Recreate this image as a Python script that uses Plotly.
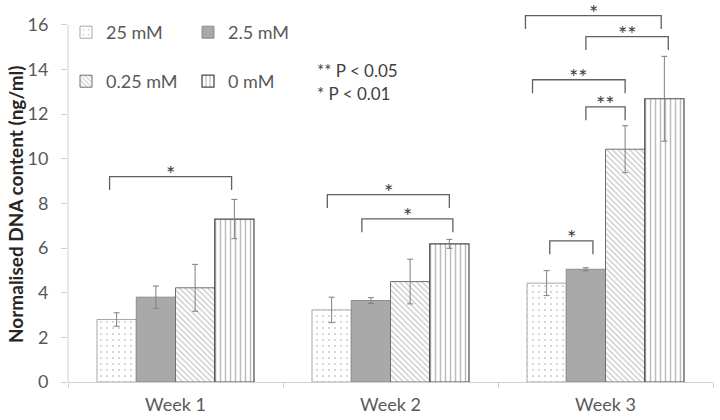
import plotly.graph_objects as go

weeks = ["Week 1", "Week 2", "Week 3"]
series = ["25 mM", "2.5 mM", "0.25 mM", "0 mM"]
values = {
    "25 mM":   [2.80, 3.23, 4.43],
    "2.5 mM":  [3.80, 3.65, 5.05],
    "0.25 mM": [4.22, 4.50, 10.43],
    "0 mM":    [7.30, 6.19, 12.69],
}
errors = {
    "25 mM":   [0.30, 0.57, 0.56],
    "2.5 mM":  [0.50, 0.13, 0.07],
    "0.25 mM": [1.05, 1.00, 1.05],
    "0 mM":    [0.88, 0.20, 1.90],
}
y_ticks = [0, 2, 4, 6, 8, 10, 12, 14, 16]

# significance brackets: (week index, from bar, to bar, bracket height, label)
brackets = [
    (0, -0.18, 2.93, 9.20, "*"),
    (1, -0.11, 3.00, 8.39, "*"),
    (1, 0.77, 3.09, 7.31, "*"),
    (2, -0.54, 2.92, 16.41, "*"),
    (2, 1.00, 3.10, 15.47, "**"),
    (2, -0.36, 2.00, 13.54, "**"),
    (2, 1.00, 2.00, 12.33, "**"),
    (2, 0.08, 1.18, 6.32, "*"),
]
legend_note = ["** P < 0.05", "* P < 0.01"]
y_title = "Normalised DNA content (ng/ml)"

FONT = "Lato"
GREY_TXT = "#595959"
BARGAP = 0.27
n = len(series)
bw = (1 - BARGAP) / n

L, R, T, B = 68, 7, 7, 38
pw, ph = 720 - L - R, 420 - T - B


def px_x(x):
    return (x - L) / pw


def px_y(y):
    return 1 - (y - T) / ph


styles = {
    "25 mM": dict(pattern=dict(shape=".", fgcolor="#9a9a9a", bgcolor="white", size=6, solidity=0.1),
                  line=dict(color="#a8a8a8", width=1), color="white"),
    "2.5 mM": dict(color="#a9a9a9", line=dict(color="#8c8c8c", width=1)),
    "0.25 mM": dict(pattern=dict(shape="\\", fgcolor="#8a8a8a", bgcolor="white", size=4, solidity=0.3),
                    line=dict(color="#707070", width=1), color="white"),
    "0 mM": dict(pattern=dict(shape="|", fgcolor="#7a7a7a", bgcolor="white", size=5, solidity=0.3),
                 line=dict(color="#4a4a4a", width=1.2), color="white"),
}

fig = go.Figure()
for i, s in enumerate(series):
    fig.add_trace(go.Bar(
        name=s, x=list(range(len(weeks))), y=values[s],
        marker=styles[s],
        error_y=dict(type="data", array=errors[s], color="#7f7f7f", thickness=1, width=3),
        legend="legend" if i < 2 else "legend2",
    ))

shapes = []
annotations = []
LEG = 0.6
for wk, b0, b1, yh, lab in brackets:
    x0 = wk + (b0 - (n - 1) / 2) * bw
    x1 = wk + (b1 - (n - 1) / 2) * bw
    path = f"M {x0},{yh - LEG} L {x0},{yh} L {x1},{yh} L {x1},{yh - LEG}"
    shapes.append(dict(type="path", path=path, xref="x", yref="y",
                       line=dict(color="#606060", width=1.3)))
    annotations.append(dict(x=(x0 + x1) / 2, y=yh, xref="x", yref="y", text=lab,
                            showarrow=False, yanchor="bottom", yshift=-12,
                            font=dict(family=FONT, size=22, color="#404040")))

# y axis line from 0 to 16 only
shapes.append(dict(type="line", xref="paper", yref="y", x0=0, x1=0, y0=0, y1=16,
                   line=dict(color="#d0d0d0", width=1)))

for k, t in enumerate(legend_note):
    annotations.append(dict(x=px_x(315), y=px_y(70 + 23 * k), xref="paper", yref="paper",
                            text=t, showarrow=False, xanchor="left", yanchor="middle",
                            font=dict(family=FONT, size=17, color="#404040")))

# y axis title
annotations.append(dict(x=px_x(15), y=px_y(204), xref="paper", yref="paper",
                        text=f"<b>{y_title}</b>", textangle=-90, showarrow=False,
                        xanchor="center", yanchor="middle",
                        font=dict(family=FONT, size=19, color="#262626")))

leg_common = dict(orientation="h", xref="paper", yref="paper", xanchor="left", yanchor="top",
                  entrywidth=77, entrywidthmode="pixels",
                  font=dict(family=FONT, size=18, color=GREY_TXT), bgcolor="rgba(0,0,0,0)",
                  traceorder="normal")

fig.update_layout(
    width=720, height=420,
    margin=dict(l=L, r=R, t=T, b=B, autoexpand=False),
    paper_bgcolor="white", plot_bgcolor="white",
    barmode="group", bargap=BARGAP, bargroupgap=0,
    font=dict(family=FONT, color=GREY_TXT),
    shapes=shapes, annotations=annotations,
    legend=dict(x=px_x(66), y=px_y(14), **leg_common),
    legend2=dict(x=px_x(66), y=px_y(63), **leg_common),
    xaxis=dict(range=[-0.5, 2.5], tickvals=[0, 1, 2], ticktext=weeks, ticks="",
               showline=True, linecolor="#d0d0d0", linewidth=1, showgrid=False, zeroline=False,
               tickfont=dict(family=FONT, size=18, color=GREY_TXT), ticklabelstandoff=6,
               minor=dict(tickvals=[-0.5, 0.5, 1.5, 2.5], ticks="outside", ticklen=5,
                          tickcolor="#d0d0d0", showgrid=False)),
    yaxis=dict(range=[0, 16.8], tickvals=y_ticks, ticks="outside", ticklen=6, tickcolor="#d0d0d0",
               showline=False, showgrid=False, zeroline=False,
               tickfont=dict(family=FONT, size=18, color=GREY_TXT), ticklabelstandoff=9),
)

fig.write_html("out.html", config={"displayModeBar": False},
               post_script="document.body.style.margin='0px';")
